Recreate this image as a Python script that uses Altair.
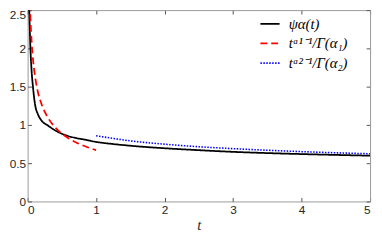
import altair as alt
import pandas as pd

# ---- data ----
psi_t = [0.015, 0.024, 0.03, 0.04, 0.055, 0.08, 0.11, 0.15, 0.2, 0.3, 0.4, 0.53, 0.7, 0.82,
         1.0, 1.25, 1.5, 2.0, 2.5, 3.0, 3.5, 4.0, 4.5, 5.0]
psi_y = [2.85, 2.5, 2.3, 2.02, 1.75, 1.48, 1.26, 1.14, 1.06, 0.99, 0.93, 0.874, 0.83, 0.81,
         0.778, 0.75, 0.728, 0.695, 0.67, 0.648, 0.632, 0.619, 0.608, 0.598]

k1_t = [0.03, 0.04, 0.06, 0.08, 0.1, 0.15, 0.2, 0.3, 0.4, 0.5, 0.6, 0.7, 0.8, 0.9, 1.0]
k1_y = [2.73, 2.43, 2.07, 1.84, 1.69, 1.43, 1.28, 1.09, 0.97, 0.886, 0.824, 0.774, 0.734, 0.70, 0.6715]

k2_t = [1.0, 1.5, 2.0, 2.5, 3.0, 3.5, 4.0, 4.5, 5.0]
k2_y = [0.859, 0.792, 0.748, 0.715, 0.690, 0.669, 0.651, 0.636, 0.623]

labels = ["ψα(t)", "tᵅ¹⁻¹/Γ(α₁)", "tᵅ²⁻¹/Γ(α₂)"]
colors = ["#000000", "#ff0000", "#0000ff"]
dashes = [[1, 0], [7, 4], [1.5, 1.5]]

x_ticks = [0, 1, 2, 3, 4, 5]
y_ticks = [0, 0.5, 1, 1.5, 2, 2.5]

W, H = 349, 195


def frame(ts, ys, name):
    return pd.DataFrame({"t": ts, "y": ys, "series": name})


xs = alt.Scale(domain=[0, 5], nice=False, zero=False)
ys = alt.Scale(domain=[0, 2.5], nice=False)

color = alt.Color("series:N", scale=alt.Scale(domain=labels, range=colors),
                  legend=alt.Legend(title=None))
dash = alt.StrokeDash("series:N", scale=alt.Scale(domain=labels, range=dashes),
                      legend=alt.Legend(title=None))

GRID = "#999999"
TICK = "#555555"

x_main = alt.Axis(orient="bottom", values=x_ticks, format="~g", ticks=False, tickSize=0,
                  labelPadding=3, title="t", titleFont="Liberation Serif", titleFontSize=15,
                  titleFontStyle="italic", titleFontWeight="normal", titleColor="#262626",
                  titleBaseline="alphabetic", titleY=28.5, domain=True)
x_in_bottom = alt.Axis(orient="top", offset=-H, values=x_ticks, ticks=True, tickSize=4,
                       labels=False, domain=False, title=None)
x_top = alt.Axis(orient="bottom", offset=-H, values=x_ticks, ticks=True, tickSize=4,
                 labels=False, domain=True, title=None)

y_main = alt.Axis(orient="left", values=y_ticks, format="~g", ticks=False, tickSize=0,
                  labelPadding=2, title=None, domain=True,
                  labelBaseline={"condition": {"test": "datum.value >= 2.5", "value": "top"},
                                 "value": "middle"})
y_in_left = alt.Axis(orient="right", offset=-W, values=y_ticks, ticks=True, tickSize=4,
                     labels=False, domain=False, title=None)
y_right = alt.Axis(orient="left", offset=-W, values=y_ticks, ticks=True, tickSize=4,
                   labels=False, domain=True, title=None)

black = alt.Chart(frame(psi_t, psi_y, labels[0])).mark_line(
    clip=True, strokeWidth=1.8, interpolate="monotone"
).encode(
    x=alt.X("t:Q", scale=xs, axis=x_main),
    y=alt.Y("y:Q", scale=ys, axis=y_main),
    color=color, strokeDash=dash,
)

red = alt.Chart(frame(k1_t, k1_y, labels[1])).mark_line(
    clip=True, strokeWidth=1.8, interpolate="monotone"
).encode(
    x=alt.X("t:Q", scale=xs, axis=x_in_bottom),
    y=alt.Y("y:Q", scale=ys, axis=y_in_left),
    color=color, strokeDash=dash,
)

blue = alt.Chart(frame(k2_t, k2_y, labels[2])).mark_line(
    clip=True, strokeWidth=1.6, interpolate="monotone"
).encode(
    x=alt.X("t:Q", scale=xs, axis=x_top),
    y=alt.Y("y:Q", scale=ys, axis=y_right),
    color=color, strokeDash=dash,
)

chart = alt.layer(black, red, blue).resolve_axis(
    x="independent", y="independent"
).properties(
    width=W, height=H,
    padding={"left": 20, "top": 0, "right": 4, "bottom": 30},
    autosize=alt.AutoSizeParams(type="none"),
    background="white",
).configure_view(
    stroke=None
).configure_axis(
    grid=False, labelFont="Liberation Sans", labelFontSize=12, labelColor="#262626",
    domainColor=GRID, domainWidth=1, tickColor=TICK, tickWidth=1,
).configure_legend(
    orient="none", legendX=236, legendY=4, padding=0,
    symbolType="stroke", symbolSize=380, symbolStrokeWidth=1.8,
    labelFont="Liberation Serif", labelFontSize=15, labelFontStyle="italic",
    labelColor="#000000", labelOffset=8, rowPadding=0, clipHeight=20, labelLimit=200,
)

chart.save("out.html", embed_options={"renderer": "svg", "actions": False})
